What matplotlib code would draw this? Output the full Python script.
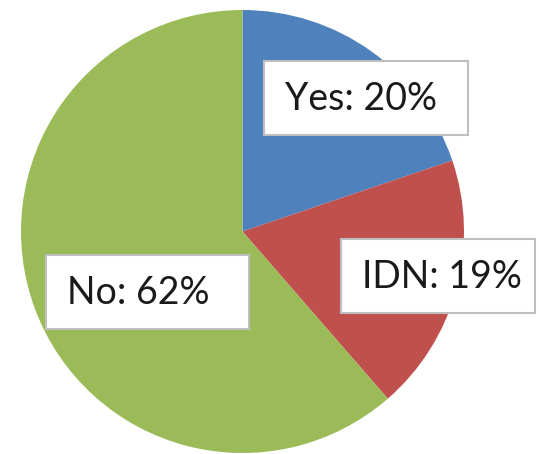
import matplotlib
matplotlib.use("Agg")
import matplotlib.pyplot as plt
from matplotlib.patches import Rectangle

categories = ["Yes", "IDN", "No"]
values = [20, 19, 62]
colors = ["#4F81BD", "#C0504D", "#9BBB59"]

W, H = 539, 454
fig = plt.figure(figsize=(W / 100, H / 100), dpi=100)
ax = fig.add_axes([0, 0, 1, 1])

cx, cy_top, r = 242.5, 231.5, 221.5
ax.pie(values, colors=colors, startangle=90, counterclock=False,
       center=(cx, H - cy_top), radius=r, frame=True,
       wedgeprops=dict(linewidth=0))
ax.set_xlim(0, W)
ax.set_ylim(0, H)
ax.set_aspect("equal")
ax.axis("off")

# label boxes (left, top, right, bottom) in pixel coords from top-left
boxes = [(264, 61, 468, 135), (341, 239, 535, 313), (46, 255, 249, 329)]
for cat, val, (l, t, rr, b) in zip(categories, values, boxes):
    ax.add_patch(Rectangle((l, H - b), rr - l, b - t, facecolor="white",
                           edgecolor="#BFBFBF", linewidth=1.5, zorder=5))
    ax.text(l + 21, H - (t + 49), f"{cat}: {val}%", fontsize=27,
            family=["Lato", "DejaVu Sans"], color="#1a1a1a",
            ha="left", va="baseline", zorder=6)

fig.savefig("out.png", dpi=100)
